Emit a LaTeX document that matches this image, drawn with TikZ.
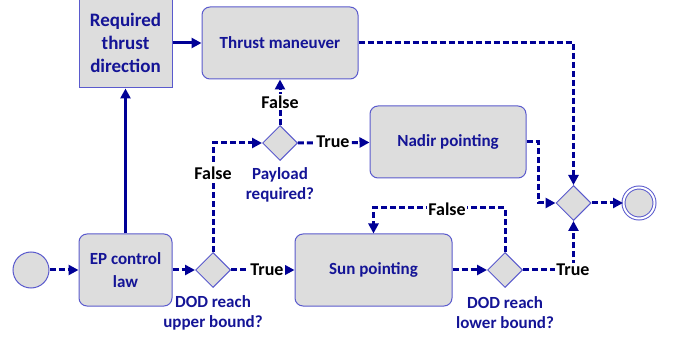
\documentclass[tikz,border=0pt]{standalone}
\usepackage{fontspec}
\setmainfont{Carlito}
\usetikzlibrary{shapes.geometric,arrows.meta,positioning}
\definecolor{flowblue}{RGB}{0,0,150}
\definecolor{textblue}{RGB}{20,20,150}
\definecolor{edgeblue}{RGB}{90,90,205}
\definecolor{boxgray}{RGB}{221,221,221}
\tikzset{
  task/.style={draw=edgeblue,line width=1pt,fill=boxgray,rounded corners=8pt,
    text=textblue,font=\bfseries\fontsize{17}{23}\selectfont,align=center,inner sep=0pt},
  gate/.style={diamond,draw=edgeblue,line width=1pt,fill=boxgray,
    minimum width=35pt,minimum height=35pt,inner sep=0pt},
  event/.style={circle,draw=edgeblue,line width=1pt,fill=boxgray,minimum size=36pt,inner sep=0pt},
  flow/.style={draw=flowblue,line width=3pt,dash pattern=on 6pt off 3pt,
    -{Triangle[length=10pt,width=10pt]}},
  solidflow/.style={draw=flowblue,line width=3pt,-{Triangle[length=10pt,width=10pt]}},
  cond/.style={fill=white,inner sep=1.5pt,font=\bfseries\fontsize{18}{18}\selectfont},
  question/.style={text=textblue,align=center,font=\bfseries\fontsize{17}{20}\selectfont},
}
\begin{document}
\begin{tikzpicture}[x=1pt,y=-1pt,line join=miter]
  \useasboundingbox (0,0) rectangle (675,339);
  \clip (0,0) rectangle (675,339);
  % activities
  \node[task,rounded corners=0pt,minimum width=93pt,minimum height=90pt,
    font=\bfseries\fontsize{19}{23}\selectfont] (thrustdir) at (125.5,43) {Required\\thrust\\direction};
  \node[task,minimum width=156pt,minimum height=72pt] (maneuver) at (280,43) {Thrust maneuver};
  \node[task,minimum width=156pt,minimum height=72pt] (nadir) at (448,142) {Nadir pointing};
  \node[task,minimum width=93pt,minimum height=72pt] (eplaw) at (125.5,270) {EP control\\law};
  \node[task,minimum width=157pt,minimum height=72pt] (sun) at (373.5,270) {Sun pointing};
  % gateways and events
  \node[gate] (payload) at (280,143) {};
  \node[gate] (upper) at (213,270) {};
  \node[gate] (lower) at (505,270) {};
  \node[gate] (merge) at (573.5,203) {};
  \node[event] (start) at (31,270) {};
  \node[event,minimum size=31pt,double=white,double distance=2pt] (stop) at (639,203) {};
  % questions
  \node[question] at (280,185) {Payload\\required?};
  \node[question] at (213,313) {DOD reach\\upper bound?};
  \node[question] at (505,313) {DOD reach\\lower bound?};
  % flows
  \draw[flow] (start) -- (eplaw);
  \draw[flow] (eplaw) -- (upper);
  \draw[solidflow] (eplaw) -- (thrustdir);
  \draw[solidflow] (thrustdir) -- (maneuver);
  \draw[flow] (upper.north) |- (payload.west);
  \draw[flow] (upper) -- (sun);
  \draw[flow] (payload) -- (maneuver);
  \draw[flow] (payload) -- (nadir);
  \draw[flow] (maneuver.east) -| (merge.north);
  \draw[flow] (nadir.east) -- ++(12,0) |- (merge.west);
  \draw[flow] (sun) -- (lower);
  \draw[flow] (lower.north) -- ++(0,-44) -| (sun.north);
  \draw[flow] (lower.east) -| (merge.south);
  \draw[flow] (merge) -- (stop);
  % conditions
  \node[cond] at (213,173) {False};
  \node[cond] at (280,102) {False};
  \node[cond] at (333,142) {True};
  \node[cond] at (267,270) {True};
  \node[cond] at (447,209) {False};
  \node[cond] at (573,270) {True};
\end{tikzpicture}
\end{document}
